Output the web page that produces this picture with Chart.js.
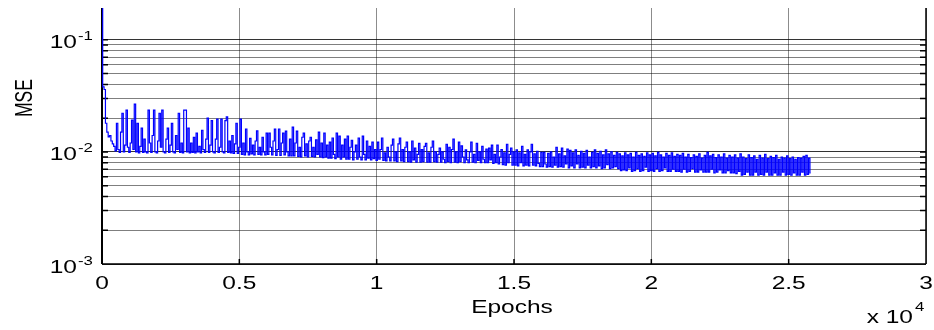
<!DOCTYPE html>
<html>
<head>
<meta charset="utf-8">
<script src="https://cdn.jsdelivr.net/npm/chart.js@4"></script>
<style>
    body { margin: 0; background: #fff; }
    #wrap { width: 934px; height: 330px; position: relative; }
</style>
</head>
<body>
<div id="wrap"><canvas id="mseChart"></canvas></div>
<script>
// training MSE, one reading every 50 epochs, one row = 1000 epochs
const epochStep = 50;
const mse = [
    0.25, 0.038, 0.036, 0.018, 0.015, 0.0136, 0.0140, 0.0125, 0.0118, 0.0112, 0.0102, 0.0180, 0.0105, 0.0099, 0.0150, 0.0221, 0.0100, 0.0115, 0.0236, 0.0110,
    0.0099, 0.0120, 0.0192, 0.0105, 0.0267, 0.0100, 0.0180, 0.0098, 0.0112, 0.0163, 0.0099, 0.0130, 0.0100, 0.0098, 0.0236, 0.0120, 0.0099, 0.0140, 0.0236, 0.0100,
    0.0098, 0.0125, 0.0221, 0.0110, 0.0236, 0.0100, 0.0098, 0.0130, 0.0163, 0.0099, 0.0115, 0.0180, 0.0100, 0.0098, 0.0140, 0.0105, 0.0221, 0.0099, 0.0120, 0.0098,
    0.0236, 0.0236, 0.0100, 0.0163, 0.0098, 0.0120, 0.0099, 0.0135, 0.0098, 0.0147, 0.0100, 0.0112, 0.0098, 0.0156, 0.0105, 0.0099, 0.0130, 0.0200, 0.0099, 0.0115,
    0.0190, 0.0100, 0.0098, 0.0130, 0.0196, 0.0099, 0.0110, 0.0196, 0.0100, 0.0098, 0.0190, 0.0205, 0.0099, 0.0125, 0.0098, 0.0140, 0.0097, 0.0118, 0.0180, 0.0097,
    0.0110, 0.0196, 0.0095, 0.0120, 0.0094, 0.0160, 0.0100, 0.0094, 0.0132, 0.0096, 0.0115, 0.0094, 0.0125, 0.0154, 0.0095, 0.0110, 0.0094, 0.0135, 0.0100, 0.0094,
    0.0147, 0.0095, 0.0147, 0.0110, 0.0094, 0.0125, 0.0160, 0.0093, 0.0105, 0.0160, 0.0093, 0.0120, 0.0147, 0.0094, 0.0153, 0.0100, 0.0092, 0.0130, 0.0092, 0.0166,
    0.0092, 0.0120, 0.0153, 0.0091, 0.0110, 0.0090, 0.0135, 0.0147, 0.0092, 0.0118, 0.0090, 0.0125, 0.0135, 0.0091, 0.0110, 0.0090, 0.0128, 0.0095, 0.0150, 0.0090,
    0.0120, 0.0089, 0.0147, 0.0090, 0.0115, 0.0088, 0.0122, 0.0088, 0.0133, 0.0095, 0.0087, 0.0147, 0.0090, 0.0138, 0.0086, 0.0115, 0.0090, 0.0130, 0.0086, 0.0138,
    0.0086, 0.0110, 0.0127, 0.0085, 0.0100, 0.0115, 0.0086, 0.0133, 0.0090, 0.0085, 0.0138, 0.0095, 0.0085, 0.0125, 0.0088, 0.0112, 0.0085, 0.0122, 0.0087, 0.0105,
    0.0084, 0.0122, 0.0086, 0.0105, 0.0133, 0.0084, 0.0098, 0.0083, 0.0110, 0.0090, 0.0083, 0.0115, 0.0130, 0.0083, 0.0100, 0.0082, 0.0118, 0.0133, 0.0083, 0.0105,
    0.0082, 0.0110, 0.0122, 0.0082, 0.0100, 0.0081, 0.0125, 0.0085, 0.0108, 0.0081, 0.0095, 0.0119, 0.0081, 0.0105, 0.0082, 0.0112, 0.0119, 0.0081, 0.0098, 0.0081,
    0.0110, 0.0125, 0.0082, 0.0100, 0.0081, 0.0095, 0.0108, 0.0081, 0.0100, 0.0086, 0.0080, 0.0117, 0.0082, 0.0110, 0.0080, 0.0105, 0.0130, 0.0081, 0.0100, 0.0080,
    0.0122, 0.0082, 0.0113, 0.0090, 0.0080, 0.0104, 0.0085, 0.0080, 0.0100, 0.0122, 0.0081, 0.0095, 0.0080, 0.0119, 0.0084, 0.0100, 0.0080, 0.0112, 0.0086, 0.0080,
    0.0106, 0.0080, 0.0108, 0.0085, 0.0115, 0.0079, 0.0095, 0.0080, 0.0115, 0.0078, 0.0090, 0.0105, 0.0077, 0.0098, 0.0076, 0.0117, 0.0080, 0.0095, 0.0108, 0.0076,
    0.0100, 0.0076, 0.0104, 0.0075, 0.0098, 0.0080, 0.0112, 0.0075, 0.0095, 0.0076, 0.0104, 0.0075, 0.0100, 0.0117, 0.0076, 0.0096, 0.0075, 0.0101, 0.0079, 0.0074,
    0.0099, 0.0074, 0.0099, 0.0078, 0.0073, 0.0097, 0.0074, 0.0100, 0.0073, 0.0090, 0.0076, 0.0110, 0.0073, 0.0096, 0.0074, 0.0108, 0.0073, 0.0092, 0.0078, 0.0106,
    0.0072, 0.0103, 0.0075, 0.0098, 0.0072, 0.0104, 0.0078, 0.0093, 0.0072, 0.0101, 0.0073, 0.0097, 0.0072, 0.0103, 0.0076, 0.0090, 0.0072, 0.0099, 0.0074, 0.0104,
    0.0072, 0.0097, 0.0075, 0.0101, 0.0071, 0.0094, 0.0072, 0.0104, 0.0077, 0.0096, 0.0071, 0.0100, 0.0072, 0.0093, 0.0074, 0.0099, 0.0071, 0.0096, 0.0068, 0.0092,
    0.0069, 0.0098, 0.0068, 0.0094, 0.0072, 0.0097, 0.0067, 0.0090, 0.0068, 0.0099, 0.0071, 0.0093, 0.0067, 0.0096, 0.0068, 0.0091, 0.0073, 0.0098, 0.0067, 0.0094,
    0.0068, 0.0097, 0.0067, 0.0092, 0.0071, 0.0099, 0.0067, 0.0094, 0.0068, 0.0090, 0.0072, 0.0097, 0.0067, 0.0093, 0.0067, 0.0098, 0.0070, 0.0091, 0.0067, 0.0095,
    0.0067, 0.0093, 0.0066, 0.0097, 0.0070, 0.0090, 0.0066, 0.0095, 0.0067, 0.0089, 0.0071, 0.0094, 0.0066, 0.0091, 0.0066, 0.0096, 0.0069, 0.0088, 0.0066, 0.0093,
    0.0066, 0.0099, 0.0066, 0.0092, 0.0070, 0.0095, 0.0065, 0.0089, 0.0066, 0.0094, 0.0069, 0.0090, 0.0065, 0.0096, 0.0065, 0.0088, 0.0068, 0.0093, 0.0065, 0.0090,
    0.0065, 0.0094, 0.0064, 0.0088, 0.0067, 0.0096, 0.0062, 0.0090, 0.0063, 0.0087, 0.0066, 0.0094, 0.0062, 0.0089, 0.0062, 0.0092, 0.0066, 0.0086, 0.0062, 0.0093,
    0.0063, 0.0088, 0.0062, 0.0095, 0.0066, 0.0087, 0.0062, 0.0091, 0.0062, 0.0089, 0.0065, 0.0093, 0.0062, 0.0086, 0.0062, 0.0090, 0.0066, 0.0088, 0.0062, 0.0092,
    0.0063, 0.0087, 0.0062, 0.0090, 0.0065, 0.0086, 0.0062, 0.0089, 0.0062, 0.0088, 0.0066, 0.0091, 0.0062, 0.0093, 0.0063, 0.0088, 0.0065
];

// axes
const xTickValues = [0, 5000, 10000, 15000, 20000, 25000, 30000];
const xTickLabels = ['0', '0.5', '1', '1.5', '2', '2.5', '3'];
const yGridValues = [
    0.001, 0.002, 0.003, 0.004, 0.005, 0.006, 0.007, 0.008, 0.009,
    0.01, 0.02, 0.03, 0.04, 0.05, 0.06, 0.07, 0.08, 0.09, 0.1
];
const yMajorValues = [0.001, 0.01, 0.1];
const yMajorExponents = ['-3', '-2', '-1'];

const points = mse.map((v, i) => ({ x: i * epochStep, y: v }));

// the original figure is stretched sideways, so its text is too
const stretch = 1.4;
const fontName = '"Liberation Sans", Arial, sans-serif';

function stretchedText(ctx, text, x, y, size, align) {
    ctx.save();
    ctx.translate(x, y);
    ctx.scale(stretch, 1);
    ctx.font = size + 'px ' + fontName;
    ctx.textAlign = align;
    ctx.textBaseline = 'alphabetic';
    ctx.fillStyle = '#000';
    ctx.fillText(text, 0, 0);
    ctx.restore();
}

const matlabAxes = {
    id: 'matlabAxes',
    beforeDatasetsDraw(chart) {
        const ctx = chart.ctx;
        const area = chart.chartArea;
        const xs = chart.scales.x;
        const ys = chart.scales.y;
        ctx.save();
        ctx.strokeStyle = '#000';
        ctx.lineWidth = 1.5;
        ctx.beginPath();
        yGridValues.forEach(v => {
            const py = ys.getPixelForValue(v);
            ctx.moveTo(area.left, py);
            ctx.lineTo(area.left + 6, py);
            ctx.moveTo(area.right - 6, py);
            ctx.lineTo(area.right, py);
        });
        xTickValues.forEach(v => {
            const px = xs.getPixelForValue(v);
            ctx.moveTo(px, area.bottom);
            ctx.lineTo(px, area.bottom - 5);
        });
        ctx.moveTo(area.left, area.bottom);
        ctx.lineTo(area.right, area.bottom);
        ctx.moveTo(area.right, area.top);
        ctx.lineTo(area.right, area.bottom);
        ctx.stroke();
        ctx.lineWidth = 2;
        ctx.beginPath();
        ctx.moveTo(area.left, area.top);
        ctx.lineTo(area.left, area.bottom);
        ctx.stroke();
        ctx.restore();
    },
    afterDraw(chart) {
        const ctx = chart.ctx;
        const area = chart.chartArea;
        const xs = chart.scales.x;
        const ys = chart.scales.y;

        xTickValues.forEach((v, i) => {
            stretchedText(ctx, xTickLabels[i], xs.getPixelForValue(v), 289, 17.5, 'center');
        });
        yMajorValues.forEach((v, i) => {
            const py = ys.getPixelForValue(v);
            stretchedText(ctx, '10', 77, py + 8.5, 17.5, 'right');
            stretchedText(ctx, yMajorExponents[i], 78, py + 0.5, 12, 'left');
        });

        stretchedText(ctx, 'Epochs', (area.left + area.right) / 2 - 2, 313, 17.5, 'center');
        stretchedText(ctx, 'x 10', 913, 323, 17.5, 'right');
        stretchedText(ctx, '4', 915, 311, 12, 'left');

        // y title, rotated
        ctx.save();
        ctx.translate(31.5, 98);
        ctx.scale(stretch, 1);
        ctx.rotate(-Math.PI / 2);
        ctx.font = '17.5px ' + fontName;
        ctx.textAlign = 'center';
        ctx.textBaseline = 'alphabetic';
        ctx.fillStyle = '#000';
        ctx.fillText('MSE', 0, 0);
        ctx.restore();
    }
};

const ctx = document.getElementById('mseChart').getContext('2d');
const mseChart = new Chart(ctx, {
    type: 'line',
    data: {
        datasets: [{
            label: 'MSE',
            data: points,
            borderColor: '#0000ff',
            borderWidth: 1.2,
            pointRadius: 0,
            stepped: 'middle',
            fill: false
        }]
    },
    options: {
        responsive: true,
        maintainAspectRatio: false,
        animation: false,
        layout: { padding: { top: 8, right: 8, left: 0, bottom: 0 } },
        plugins: {
            legend: { display: false },
            tooltip: { enabled: false }
        },
        scales: {
            x: {
                type: 'linear',
                min: 0,
                max: 30000,
                ticks: { stepSize: 5000, display: false },
                grid: { color: 'rgba(0,0,0,0.45)', lineWidth: 1, drawTicks: false },
                border: { display: false },
                afterFit: scale => { scale.height = 66; }
            },
            y: {
                type: 'logarithmic',
                min: 0.001,
                max: 0.192,
                afterBuildTicks: scale => {
                    scale.ticks = yGridValues.map(v => ({ value: v }));
                },
                ticks: { display: false, autoSkip: false },
                grid: {
                    color: c => yMajorValues.includes(c.tick.value) ? 'rgba(0,0,0,0.8)' : 'rgba(0,0,0,0.5)',
                    lineWidth: 1,
                    drawTicks: false
                },
                border: { display: false },
                afterFit: scale => { scale.width = 102; }
            }
        }
    },
    plugins: [matlabAxes]
});
</script>
</body>
</html>
